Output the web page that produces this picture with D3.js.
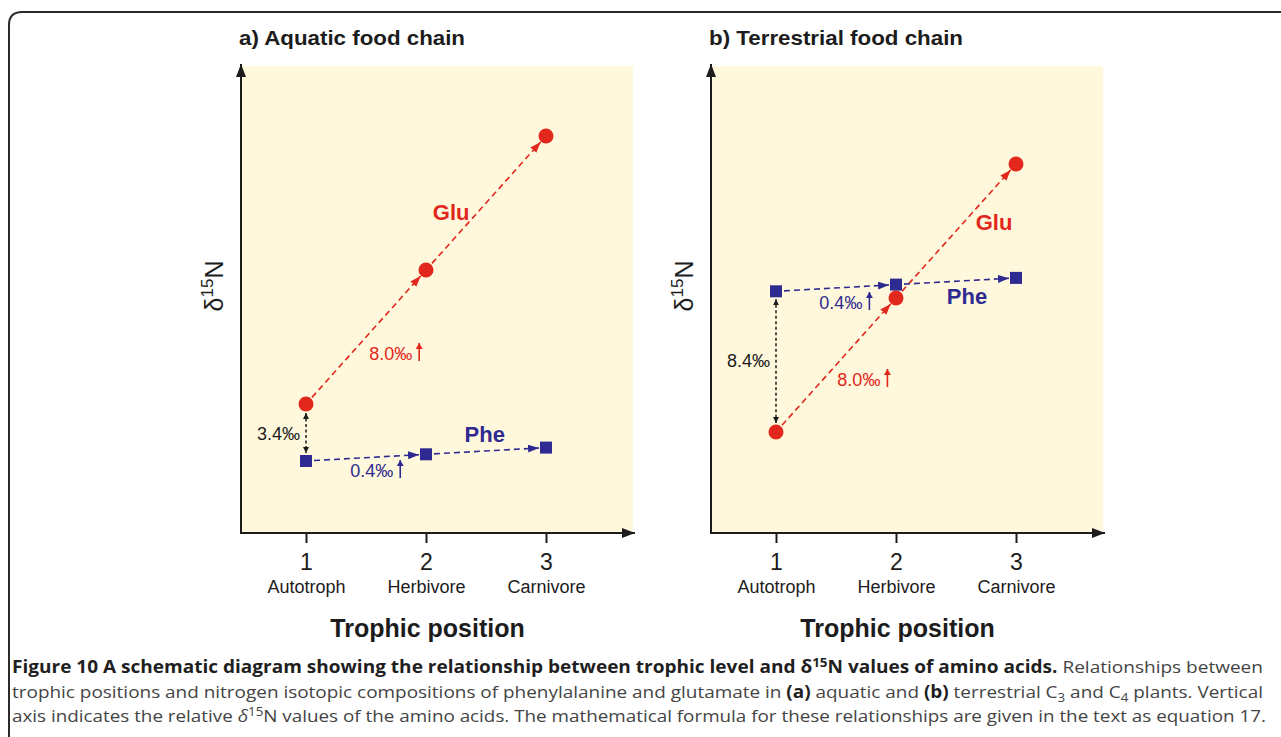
<!DOCTYPE html>
<html>
<head>
<meta charset="utf-8">
<script src="https://cdn.jsdelivr.net/npm/d3@7"></script>
<style>
  body { margin: 0; background: #ffffff; }
  svg { display: block; }
</style>
</head>
<body>
<svg id="chart" width="1281" height="737"></svg>
<script>
// Trophic positions on the x axis
const trophicPositions = [1, 2, 3];
const trophicNames = ["Autotroph", "Herbivore", "Carnivore"];

// Relative δ15N values (‰) of the two amino acids at each trophic position
const aquaticPhe = [0, 0.4, 0.8];
const aquaticGlu = [3.4, 11.4, 19.4];
const terrestrialPhe = [8.4, 8.8, 9.2];
const terrestrialGlu = [0, 8.0, 16.0];

// Enrichment per trophic step and Glu–Phe offset at the autotroph level (‰)
const aquaticSteps = { glu: 8.0, phe: 0.4, offset: 3.4 };
const terrestrialSteps = { glu: 8.0, phe: 0.4, offset: 8.4 };

const panelTitles = ["a) Aquatic food chain", "b) Terrestrial food chain"];

const RED = "#e2271c";
const BLUE = "#2f2a91";
const INK = "#1c1c1c";
const PANEL_BG = "#fff8dc";
const LABEL_FONT = "'Liberation Sans', Arial, Helvetica, sans-serif";
const CAPTION_FONT = "'Open Sans', 'Noto Sans', sans-serif";
const PX_PER_PERMIL = 16.75;

const svg = d3.select("#chart");

// ---- arrowhead markers ----
const defs = svg.append("defs");
function arrowMarker(id, color, len, wid) {
  defs.append("marker")
    .attr("id", id)
    .attr("viewBox", `0 0 ${len} ${wid}`)
    .attr("refX", len).attr("refY", wid / 2)
    .attr("markerWidth", len).attr("markerHeight", wid)
    .attr("markerUnits", "userSpaceOnUse")
    .attr("orient", "auto-start-reverse")
    .append("path")
    .attr("d", `M0,0 L${len},${wid / 2} L0,${wid} Z`)
    .attr("fill", color);
}
arrowMarker("ah-red", RED, 11, 8);
arrowMarker("ah-blue", BLUE, 11, 8);
arrowMarker("ah-ink", INK, 6, 6);
arrowMarker("ah-red-s", RED, 6, 7);
arrowMarker("ah-blue-s", BLUE, 6, 7);
arrowMarker("ah-axis", INK, 13, 10);

// ---- outer figure frame (rounded top-left corner) ----
svg.append("path")
  .attr("d", "M9,760 L9,25 Q9,12 22,12 L1290,12")
  .attr("fill", "none")
  .attr("stroke", "#2b2b2b")
  .attr("stroke-width", 2);

// ---- panels ----
const panels = [
  {
    title: panelTitles[0], titleWidth: 226, axisX: 241, zeroY: 461,
    phe: aquaticPhe, glu: aquaticGlu, steps: aquaticSteps,
    labels: {
      glu: [2.21, 14.4], phe: [2.49, 1.13],
      gluStep: [1.885, 6.03], pheStep: [1.727, -0.96], offset: [0.95, 1.25]
    }
  },
  {
    title: panelTitles[1], titleWidth: 254, axisX: 711, zeroY: 432,
    phe: terrestrialPhe, glu: terrestrialGlu, steps: terrestrialSteps,
    labels: {
      glu: [2.817, 12.06], phe: [2.592, 7.64],
      gluStep: [1.87, 2.75], pheStep: [1.72, 7.34], offset: [0.95, 3.88]
    }
  }
];

const PLOT_TOP = 66, PLOT_BOTTOM = 533;

function fmt(v) { return v.toFixed(1) + "‰"; }

panels.forEach(p => {
  const g = svg.append("g");
  const left = p.axisX;
  const right = left + 393;

  const x = d3.scaleLinear().domain([1, 3]).range([left + 65, left + 305]);
  const y = d3.scaleLinear().domain([0, 10]).range([p.zeroY, p.zeroY - 10 * PX_PER_PERMIL]);

  // background
  g.append("rect")
    .attr("x", left).attr("y", PLOT_TOP)
    .attr("width", right - left - 1).attr("height", PLOT_BOTTOM - PLOT_TOP)
    .attr("fill", PANEL_BG);

  // title
  g.append("text")
    .attr("x", left - 2).attr("y", 45)
    .attr("font-family", LABEL_FONT).attr("font-weight", "bold")
    .attr("font-size", 21).attr("fill", INK)
    .attr("textLength", p.titleWidth).attr("lengthAdjust", "spacingAndGlyphs")
    .text(p.title);

  // x axis ticks and labels
  const xAxis = d3.axisBottom(x)
    .tickValues(trophicPositions)
    .tickSize(10).tickSizeOuter(0).tickPadding(5)
    .tickFormat(d3.format("d"));
  const ax = g.append("g")
    .attr("transform", `translate(0,${PLOT_BOTTOM})`)
    .call(xAxis);
  ax.select(".domain").remove();
  ax.selectAll(".tick line").attr("stroke", INK).attr("stroke-width", 2);
  ax.selectAll(".tick text")
    .attr("font-family", LABEL_FONT).attr("font-size", 23)
    .attr("fill", INK).attr("dy", null).attr("y", 37);
  ax.selectAll(".tick").append("text")
    .attr("y", 60).attr("text-anchor", "middle")
    .attr("font-family", LABEL_FONT).attr("font-size", 18)
    .attr("fill", INK)
    .text((d, i) => trophicNames[i]);

  // axis lines with arrowheads
  g.append("line")
    .attr("x1", left).attr("y1", PLOT_BOTTOM)
    .attr("x2", left).attr("y2", PLOT_TOP - 2)
    .attr("stroke", INK).attr("stroke-width", 2)
    .attr("marker-end", "url(#ah-axis)");
  g.append("line")
    .attr("x1", left - 1).attr("y1", PLOT_BOTTOM)
    .attr("x2", right + 1).attr("y2", PLOT_BOTTOM)
    .attr("stroke", INK).attr("stroke-width", 2)
    .attr("marker-end", "url(#ah-axis)");

  // axis titles
  g.append("text")
    .attr("x", (left + right) / 2 - 10).attr("y", 637)
    .attr("text-anchor", "middle")
    .attr("font-family", LABEL_FONT).attr("font-weight", "bold")
    .attr("font-size", 25).attr("fill", INK)
    .text("Trophic position");

  const yl = g.append("text")
    .attr("transform", `translate(${left - 18},286) rotate(-90)`)
    .attr("text-anchor", "middle")
    .attr("font-family", LABEL_FONT).attr("font-size", 25).attr("fill", INK);
  yl.append("tspan").text("δ");
  yl.append("tspan").attr("dy", -10).attr("font-size", 17).text("15");
  yl.append("tspan").attr("dy", 10).text("N");

  // dashed connector segments between consecutive trophic positions
  function connectors(values, color, marker, gapStart, gapEnd) {
    const pts = values.map((v, i) => [x(trophicPositions[i]), y(v)]);
    const segs = d3.pairs(pts).map(([a, b]) => {
      const dx = b[0] - a[0], dy = b[1] - a[1];
      const L = Math.hypot(dx, dy);
      const ux = dx / L, uy = dy / L;
      return [a[0] + ux * gapStart, a[1] + uy * gapStart,
              b[0] - ux * gapEnd, b[1] - uy * gapEnd];
    });
    g.selectAll(null).data(segs).enter().append("line")
      .attr("x1", d => d[0]).attr("y1", d => d[1])
      .attr("x2", d => d[2]).attr("y2", d => d[3])
      .attr("stroke", color).attr("stroke-width", 1.6)
      .attr("stroke-dasharray", "6,4")
      .attr("marker-end", `url(#${marker})`);
  }
  connectors(p.glu, RED, "ah-red", 9, 8);
  connectors(p.phe, BLUE, "ah-blue", 8, 7);

  // vertical Glu–Phe offset at the autotroph level
  const gy0 = y(p.glu[0]), py0 = y(p.phe[0]);
  const top = Math.min(gy0, py0), bot = Math.max(gy0, py0);
  const topGap = gy0 < py0 ? 9 : 8, botGap = gy0 < py0 ? 8 : 9;
  g.append("line")
    .attr("x1", x(1)).attr("y1", top + topGap)
    .attr("x2", x(1)).attr("y2", bot - botGap)
    .attr("stroke", INK).attr("stroke-width", 1.5)
    .attr("stroke-dasharray", "3,2.5")
    .attr("marker-start", "url(#ah-ink)")
    .attr("marker-end", "url(#ah-ink)");

  // markers: Glu circles, Phe squares
  g.selectAll(null).data(p.glu).enter().append("circle")
    .attr("cx", (d, i) => x(trophicPositions[i]))
    .attr("cy", d => y(d))
    .attr("r", 7.5)
    .attr("fill", RED);
  g.selectAll(null).data(p.phe).enter().append("rect")
    .attr("x", (d, i) => x(trophicPositions[i]) - 6)
    .attr("y", d => y(d) - 6)
    .attr("width", 12).attr("height", 12)
    .attr("fill", BLUE);

  // series names
  const L = p.labels;
  g.append("text")
    .attr("x", x(L.glu[0])).attr("y", y(L.glu[1]))
    .attr("text-anchor", "middle")
    .attr("font-family", LABEL_FONT).attr("font-weight", "bold")
    .attr("font-size", 22).attr("fill", RED)
    .text("Glu");
  g.append("text")
    .attr("x", x(L.phe[0])).attr("y", y(L.phe[1]))
    .attr("text-anchor", "middle")
    .attr("font-family", LABEL_FONT).attr("font-weight", "bold")
    .attr("font-size", 22).attr("fill", BLUE)
    .text("Phe");

  // enrichment labels with small upward arrows
  function stepLabel(pos, value, color, marker) {
    const tx = x(pos[0]), ty = y(pos[1]);
    g.append("text")
      .attr("x", tx).attr("y", ty)
      .attr("text-anchor", "end")
      .attr("font-family", LABEL_FONT).attr("font-size", 18)
      .attr("fill", color)
      .text(fmt(value));
    if (marker) {
      g.append("line")
        .attr("x1", tx + 7).attr("y1", ty + 1)
        .attr("x2", tx + 7).attr("y2", ty - 17)
        .attr("stroke", color).attr("stroke-width", 1.6)
        .attr("marker-end", `url(#${marker})`);
    }
  }
  stepLabel(L.gluStep, p.steps.glu, RED, "ah-red-s");
  stepLabel(L.pheStep, p.steps.phe, BLUE, "ah-blue-s");
  stepLabel(L.offset, p.steps.offset, INK, null);
});

// ---- figure caption ----
const cap = svg.append("g")
  .attr("font-family", CAPTION_FONT)
  .attr("font-size", 17)
  .attr("fill", "#444444");

function captionLine(yPos, width, parts) {
  const t = cap.append("text")
    .attr("x", 12).attr("y", yPos)
    .attr("textLength", width)
    .attr("lengthAdjust", "spacingAndGlyphs");
  let shift = 0;
  parts.forEach(pt => {
    const s = t.append("tspan").text(pt.t);
    if (pt.b) s.attr("font-weight", "bold").attr("fill", "#1f1f1f");
    if (pt.i) s.attr("font-style", "italic");
    const want = pt.sup ? -6 : pt.sub ? 4 : 0;
    if (want !== shift) { s.attr("dy", want - shift); shift = want; }
    if (pt.sup || pt.sub) s.attr("font-size", 12);
  });
}

captionLine(673, 1251, [
  { t: "Figure 10 A schematic diagram showing the relationship between trophic level and δ", b: true },
  { t: "15", b: true, sup: true },
  { t: "N values of amino acids.", b: true },
  { t: " Relationships between" }
]);
captionLine(698, 1251, [
  { t: "trophic positions and nitrogen isotopic compositions of phenylalanine and glutamate in " },
  { t: "(a)", b: true },
  { t: " aquatic and " },
  { t: "(b)", b: true },
  { t: " terrestrial C" },
  { t: "3", sub: true },
  { t: " and C" },
  { t: "4", sub: true },
  { t: " plants. Vertical" }
]);
captionLine(722, 1254, [
  { t: "axis indicates the relative " },
  { t: "δ", i: true },
  { t: "15", sup: true },
  { t: "N values of the amino acids. The mathematical formula for these relationships are given in the text as equation 17." }
]);
</script>
</body>
</html>
